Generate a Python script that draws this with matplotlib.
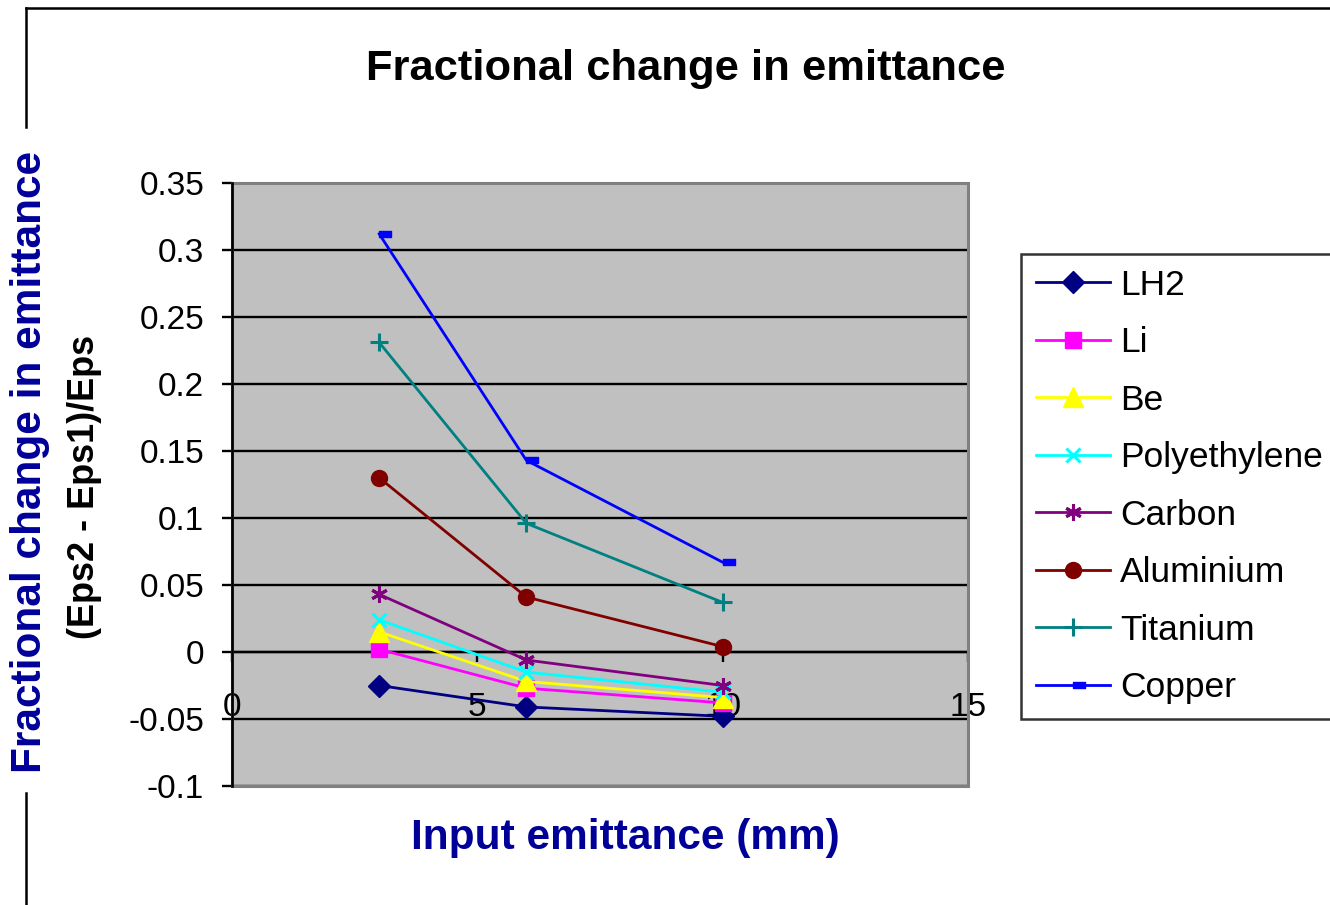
import numpy as np
import matplotlib
matplotlib.use("Agg")
import matplotlib.pyplot as plt
from matplotlib.path import Path
from matplotlib.lines import Line2D
from matplotlib.patches import Rectangle

plt.rcParams['font.family'] = ['Liberation Sans', 'DejaVu Sans']

# ---- data ----
input_emittance = [3, 6, 10]
series_names = ["LH2", "Li", "Be", "Polyethylene", "Carbon", "Aluminium", "Titanium", "Copper"]
lh2 = [-0.025, -0.041, -0.048]
li = [0.002, -0.027, -0.038]
be = [0.015, -0.022, -0.034]
polyethylene = [0.024, -0.015, -0.030]
carbon = [0.043, -0.006, -0.025]
aluminium = [0.130, 0.041, 0.004]
titanium = [0.231, 0.096, 0.037]
copper = [0.312, 0.143, 0.067]
y_ticks = [-0.1, -0.05, 0, 0.05, 0.1, 0.15, 0.2, 0.25, 0.3, 0.35]
x_ticks = [0, 5, 10, 15]

dash = Path([(0, -0.25), (1, -0.25), (1, 0.25), (0, 0.25), (0, -0.25)],
            [Path.MOVETO, Path.LINETO, Path.LINETO, Path.LINETO, Path.CLOSEPOLY])

styles = [
    dict(color="#000080", marker="D", ms=11.5, mec="#000080", mfc="#000080"),
    dict(color="#FF00FF", marker="s", ms=11.5, mec="#FF00FF", mfc="#FF00FF"),
    dict(color="#FFFF00", marker="^", ms=14, mec="#FFFF00", mfc="#FFFF00"),
    dict(color="#00FFFF", marker="x", ms=9.5, mew=2.2),
    dict(color="#800080", marker=(6, 2, 0), ms=12, mew=2.2),
    dict(color="#800000", marker="o", ms=11.5, mec="#800000", mfc="#800000"),
    dict(color="#008080", marker="+", ms=12.5, mew=2.2),
    dict(color="#0000FF", marker=dash, ms=17, mec="#0000FF", mfc="#0000FF"),
]
all_series = [lh2, li, be, polyethylene, carbon, aluminium, titanium, copper]

W, H = 1330, 905
fig = plt.figure(figsize=(W / 100, H / 100), dpi=100)
ax = fig.add_axes([232 / W, 1 - 786 / H, (968 - 232) / W, (786 - 183) / H])
ax.set_facecolor("#C0C0C0")

for name, vals, st in zip(series_names, all_series, styles):
    ax.plot(input_emittance, vals, label=name, lw=2.0, clip_on=False, zorder=5, **st)

ax.set_xlim(0, 15)
ax.set_ylim(-0.1, 0.35)
ax.set_xticks(x_ticks)
ax.set_xticklabels([str(v) for v in x_ticks])
ax.set_yticks(y_ticks)
ax.set_yticklabels([f"{round(v, 2):g}" for v in y_ticks])

ax.yaxis.grid(True, color="black", lw=1.7)
ax.set_axisbelow(True)

ax.spines['bottom'].set_position(('data', 0))
ax.spines['bottom'].set_color('black')
ax.spines['bottom'].set_linewidth(1.7)
ax.spines['left'].set_color('black')
ax.spines['left'].set_linewidth(1.9)
ax.spines['top'].set_visible(False)
ax.spines['right'].set_visible(False)
ax.add_patch(Rectangle((0, 0), 1, 1, transform=ax.transAxes, fill=False,
                       edgecolor="#808080", lw=2.2, zorder=3, clip_on=False))
ax.spines['left'].set_zorder(4)

ax.tick_params(axis='y', direction='out', length=7, width=1.7, pad=13, labelsize=24)
ax.tick_params(axis='x', direction='out', length=7, width=1.7, pad=22, labelsize=24)

fig.text(686 / W, 1 - 69 / H, "Fractional change in emittance", ha='center', va='center',
         fontsize=31.3, fontweight='bold', color='black')
fig.text(625 / W, 1 - 838 / H, "Input emittance (mm)", ha='center', va='center',
         fontsize=30.5, fontweight='bold', color='#000099')
fig.text(30 / W, 1 - 462 / H, "Fractional change in emittance", ha='center', va='center',
         rotation=90, fontsize=30.5, fontweight='bold', color='#000099')
fig.text(85 / W, 1 - 487 / H, "(Eps2 - Eps1)/Eps", ha='center', va='center',
         rotation=90, fontsize=26, fontweight='bold', color='black')

leg = fig.legend(loc='upper left', bbox_to_anchor=(1021 / W, 1 - 254 / H),
                 bbox_transform=fig.transFigure, borderaxespad=0, fontsize=25.5,
                 frameon=True, fancybox=False, shadow=False, numpoints=1,
                 handlelength=2.1, handletextpad=0.28, borderpad=0.42, labelspacing=0.69)
leg.get_frame().set_edgecolor('black')
leg.get_frame().set_linewidth(1.8)

# outer chart-area frame (cropped)
def px(x, y):
    return x / W, 1 - y / H
for (x0, y0), (x1, y1) in [((26, 8), (1330, 8)), ((26, 8), (26, 127)), ((26, 793), (26, 905))]:
    a, b = px(x0, y0)
    c, d = px(x1, y1)
    fig.add_artist(Line2D([a, c], [b, d], transform=fig.transFigure, color='black', lw=1.8))

fig.savefig("out.png", dpi=100)
